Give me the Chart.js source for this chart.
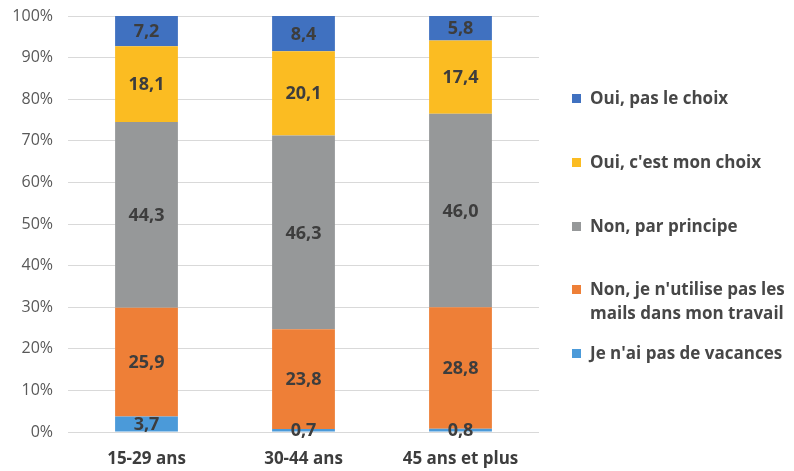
<!DOCTYPE html>
<html>
<head>
<meta charset="utf-8">
<script src="https://cdn.jsdelivr.net/npm/chart.js@4/dist/chart.umd.min.js"></script>
<style>
    html, body { margin: 0; padding: 0; background: #fff; }
    .wrap { position: relative; width: 794px; height: 471px; }
    #chart { position: absolute; left: 0; top: 0; }
    .legend { position: absolute; left: 0; top: 0; font-family: 'Open Sans', sans-serif; font-weight: 700; font-size: 17px; color: #474747; }
    .legend-item { position: absolute; left: 572px; line-height: 24px; white-space: nowrap; }
    .legend-box { position: absolute; left: 0; top: 8px; width: 9px; height: 9px; }
    .legend-text { margin-left: 18px; }
</style>
</head>
<body>
<div class="wrap">
    <canvas id="chart" width="794" height="471"></canvas>
    <div class="legend js-legend"></div>
</div>
<script>
const categories = ['15-29 ans', '30-44 ans', '45 ans et plus'];

const seriesNames = [
    "Je n'ai pas de vacances",
    "Non, je n'utilise pas les mails dans mon travail",
    'Non, par principe',
    "Oui, c'est mon choix",
    'Oui, pas le choix',
];
// legend wraps the long label on two lines
const legendLines = [
    ["Je n'ai pas de vacances"],
    ["Non, je n'utilise pas les", 'mails dans mon travail'],
    ['Non, par principe'],
    ["Oui, c'est mon choix"],
    ['Oui, pas le choix'],
];

const pasDeVacances = [3.7, 0.7, 0.8];
const pasLesMails = [25.9, 23.8, 28.8];
const parPrincipe = [44.3, 46.3, 46.0];
const monChoix = [18.1, 20.1, 17.4];
const pasLeChoix = [7.2, 8.4, 5.8];

const seriesValues = [pasDeVacances, pasLesMails, parPrincipe, monChoix, pasLeChoix];
const seriesColors = ['#4b9ad9', '#ee7f37', '#969899', '#fbbc22', '#4071c0'];

const yTicks = [0, 10, 20, 30, 40, 50, 60, 70, 80, 90, 100];

const FONT = "'Open Sans', sans-serif";
const LABEL_COLOR = '#3d3d3d';

// 100% stacked: each bar is scaled to its own total
const totals = categories.map((_, i) => seriesValues.reduce((s, arr) => s + arr[i], 0));

const datasets = seriesNames.map((name, k) => ({
    label: name,
    data: seriesValues[k].map((v, i) => v / totals[i] * 100),
    raw: seriesValues[k],
    backgroundColor: seriesColors[k],
    borderWidth: 0,
    categoryPercentage: 1,
    barPercentage: 0.4,
}));

const valueLabels = {
    id: 'valueLabels',
    afterDatasetsDraw(chart) {
        const {ctx} = chart;
        ctx.save();
        ctx.font = `700 18px ${FONT}`;
        ctx.fillStyle = LABEL_COLOR;
        ctx.textAlign = 'center';
        ctx.textBaseline = 'middle';
        chart.data.datasets.forEach((ds, k) => {
            chart.getDatasetMeta(k).data.forEach((bar, i) => {
                const y = (bar.y + bar.base) / 2;
                ctx.fillText(ds.raw[i].toFixed(1).replace('.', ','), bar.x, y + 1);
            });
        });
        ctx.restore();
    }
};

new Chart(document.getElementById('chart'), {
    type: 'bar',
    data: {labels: categories, datasets},
    options: {
        responsive: false,
        animation: false,
        layout: {padding: {top: 16, right: 255, bottom: 0, left: 0}},
        plugins: {legend: {display: false}, tooltip: {enabled: false}},
        scales: {
            x: {
                stacked: true,
                grid: {display: false},
                border: {display: false},
                ticks: {
                    color: LABEL_COLOR,
                    padding: 9,
                    font: {family: FONT, size: 17, weight: 700},
                },
                afterFit: scale => { scale.height = 39; },
            },
            y: {
                stacked: true,
                min: 0,
                max: 100,
                border: {display: false},
                grid: {color: '#d9d9d9', lineWidth: 1, drawTicks: false},
                afterBuildTicks: scale => { scale.ticks = yTicks.map(value => ({value})); },
                afterFit: scale => {
                    scale.width = 68;
                    scale.paddingTop = 0;
                    scale.paddingBottom = 0;
                },
                ticks: {
                    color: '#595959',
                    padding: 15,
                    font: {family: FONT, size: 16},
                    callback: v => v + '%',
                },
            },
        },
    },
    plugins: [valueLabels],
});

const legend = document.querySelector('.js-legend');
legendLines.slice().reverse().forEach((lines, i) => {
    const k = seriesNames.length - 1 - i;
    const item = document.createElement('div');
    item.className = 'legend-item';
    item.style.top = (86 + i * 63.75) + 'px';
    const box = document.createElement('span');
    box.className = 'legend-box';
    box.style.background = seriesColors[k];
    const text = document.createElement('div');
    text.className = 'legend-text';
    text.innerHTML = lines.join('<br>');
    item.appendChild(box);
    item.appendChild(text);
    legend.appendChild(item);
});
</script>
</body>
</html>
